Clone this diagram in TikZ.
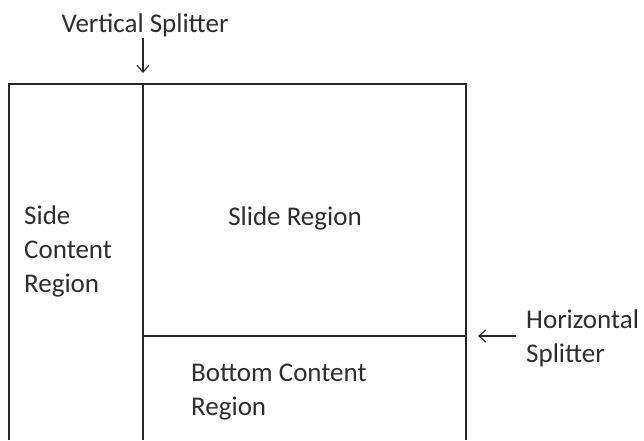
\documentclass[tikz,border=0pt]{standalone}
\usepackage{fontspec}
\setmainfont{Carlito}
\usetikzlibrary{arrows.meta}
\begin{document}
\begin{tikzpicture}[x=1pt,y=-1pt,
  frame/.style={line width=1.5pt,draw=black!85},
  lbl/.style={font=\fontsize{27}{34}\selectfont,text=black!82,inner sep=0pt},
  arr/.style={line width=1.1pt,draw=black!85,-{Straight Barb[length=7pt,width=12pt]}}]
\useasboundingbox (0,0) rectangle (644,440);
% frame
\coordinate (tl) at (9,84);
\coordinate (tr) at (466,84);
\coordinate (bl) at (9,440);
\coordinate (br) at (466,440);
\coordinate (vt) at (143,84);
\coordinate (vb) at (143,440);
\coordinate (hl) at (143,336);
\coordinate (hr) at (466,336);
\draw[frame] (bl) -- (tl) -- (tr) -- (br);
\draw[frame] (vt) -- (vb);
\draw[frame] (hl) -- (hr);
% labels
\node[lbl,anchor=base] (vs) at (145,32) {Vertical Splitter};
\node[lbl,anchor=base west,align=left] (side) at (24,292) {Side\\Content\\Region};
\node[lbl,anchor=base] (slide) at (295,225) {Slide Region};
\node[lbl,anchor=base west,align=left] (bottom) at (191,415) {Bottom Content\\Region};
\node[lbl,anchor=base west,align=left] (hs) at (526,362) {Horizontal\\Splitter};
% arrows
\coordinate (va) at (143,38);
\coordinate (vz) at (143,73);
\draw[arr] (va) -- (vz);
\coordinate (ha) at (516,336);
\coordinate (hz) at (478,336);
\draw[arr] (ha) -- (hz);
\end{tikzpicture}
\end{document}
